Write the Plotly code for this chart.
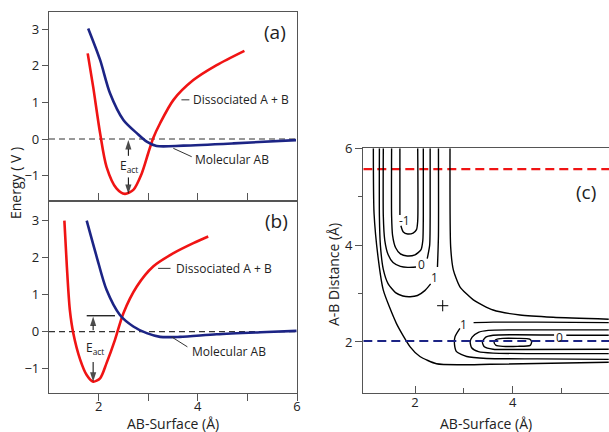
import plotly.graph_objects as go

# ---------------- data ----------------
# panel (a)
a_red_x = [1.78, 1.89, 2.03, 2.16, 2.36, 2.53, 2.70, 2.87, 3.00, 3.10, 3.24, 3.51, 3.91, 4.38, 4.94]
a_red_y = [2.34, 1.43, 0.16, -0.76, -1.35, -1.50, -1.39, -0.94, -0.39, 0.02, 0.43, 1.07, 1.61, 2.02, 2.41]
a_blue_x = [1.79, 2.03, 2.23, 2.50, 2.77, 2.97, 3.17, 3.71, 4.72, 5.98]
a_blue_y = [3.02, 2.16, 1.25, 0.52, 0.16, -0.07, -0.19, -0.18, -0.12, -0.03]
# panel (b)
b_red_x = [1.31, 1.36, 1.42, 1.49, 1.63, 1.76, 1.89, 2.03, 2.16, 2.33, 2.50, 2.77, 3.10, 3.51, 3.91, 4.21]
b_red_y = [3.00, 1.76, 0.59, -0.04, -0.76, -1.17, -1.35, -1.26, -0.85, -0.22, 0.50, 1.22, 1.76, 2.12, 2.39, 2.57]
b_blue_x = [1.76, 1.96, 2.16, 2.43, 2.70, 2.97, 3.24, 3.64, 4.38, 5.39, 5.99]
b_blue_y = [3.00, 2.03, 1.13, 0.45, 0.14, -0.04, -0.14, -0.14, -0.07, -0.01, 0.02]

energy_ticks = [-1, 0, 1, 2, 3]
surface_ticks = [2, 4, 6]

# E_act arrows: (x, tail_y, tip_y)
a_arrows = [(2.60, -0.46, -0.03), (2.60, -1.05, -1.50)]
b_arrows = [(1.89, 0.04, 0.41), (1.89, -0.82, -1.35)]

# panel (c) contour lines (None = gap for a label)
c_lines = {
    "u1": ([1.69, 1.69, 1.69, None, 1.71, 1.76, 1.85, 1.96, 2.03, 2.055, 2.055],
           [6.0, 5.0, 4.62, None, 4.40, 4.27, 4.23, 4.25, 4.32, 4.5, 6.0]),
    "u2": ([1.52, 1.52, 1.54, 1.60, 1.70, 1.84, 2.00, 2.12, 2.16, 2.17, 2.17],
           [6.0, 4.6, 4.2, 3.95, 3.82, 3.776, 3.80, 3.90, 4.10, 4.6, 6.0]),
    "u3": ([1.35, 1.35, 1.38, 1.45, 1.55, 1.70, 1.85, 2.02, None, 2.25, 2.30, 2.31, 2.31],
           [6.0, 4.6, 4.1, 3.8, 3.64, 3.56, 3.54, 3.55, None, 3.72, 4.0, 4.6, 6.0]),
    "u4": ([1.27, 1.27, 1.29, 1.35, 1.45, 1.60, 1.75, 1.90, 2.05, 2.20, 2.32, None, 2.46, 2.48, 2.48],
           [6.0, 4.6, 4.0, 3.5, 3.2, 3.02, 2.95, 2.935, 2.96, 3.06, 3.20, None, 3.55, 4.2, 6.0]),
    "outer": ([1.146, 1.16, 1.25, 1.35, 1.62, 1.90, 2.10, 2.44, 2.92, 3.54, 5.97],
              [6.0, 4.66, 3.69, 3.07, 2.38, 1.90, 1.70, 1.55, 1.53, 1.54, 1.58]),
    "corner": ([2.717, 2.73, 2.785, 2.92, 3.195, 3.60, 4.15, 4.83, 5.97],
               [6.0, 3.97, 3.49, 3.14, 2.87, 2.66, 2.556, 2.51, 2.47]),
    "r1": ([5.97, 4.5, 3.6, 3.2, None, 2.92, 2.82, 2.81, 2.85, 3.06, 3.47, 4.5, 5.97],
           [2.40, 2.41, 2.41, 2.40, None, 2.28, 2.11, 1.94, 1.80, 1.70, 1.66, 1.65, 1.64]),
    "r05": ([5.97, 4.0, 3.5, 3.3, 3.17, 3.13, 3.16, 3.30, 3.60, 5.97],
            [2.25, 2.25, 2.24, 2.20, 2.10, 2.00, 1.88, 1.80, 1.77, 1.76]),
    "r0": ([5.97, 5.10, None, 4.85, 4.0, 3.6, 3.45, 3.38, 3.42, 3.6, 4.2, 5.97],
           [2.14, 2.14, None, 2.145, 2.15, 2.14, 2.10, 2.00, 1.90, 1.85, 1.845, 1.85]),
    "oval": ([3.62, 3.66, 3.80, 4.10, 4.35, 4.39, 4.36, 4.10, 3.80, 3.66, 3.62],
             [1.99, 2.05, 2.075, 2.075, 2.06, 2.00, 1.93, 1.91, 1.91, 1.93, 1.99]),
}
c_labels = [("-1", 1.775, 4.50), ("0", 2.14, 3.60), ("1", 2.40, 3.33),
            ("1", 2.99, 2.36), ("0", 4.97, 2.10)]
saddle = (2.567, 2.749)
red_cut = 5.57
blue_cut = 2.02

RED = "#f01414"
BLUE = "#1c2485"
FRAME = "#555555"
FONT = "Open Sans"

fig = go.Figure()

def curve(x, y, color, xa, ya):
    fig.add_trace(go.Scatter(x=x, y=y, mode="lines", xaxis=xa, yaxis=ya,
                             line=dict(color=color, width=2.6, shape="spline", smoothing=0.8),
                             hoverinfo="skip"))

# zero dashed lines
for xa, ya in (("x", "y"), ("x2", "y2")):
    fig.add_trace(go.Scatter(x=[1, 6], y=[0, 0], mode="lines", xaxis=xa, yaxis=ya,
                             line=dict(color="#333333", width=1.2, dash="6px,4px"), hoverinfo="skip"))

curve(a_red_x, a_red_y, RED, "x", "y")
curve(a_blue_x, a_blue_y, BLUE, "x", "y")
curve(b_red_x, b_red_y, RED, "x2", "y2")
curve(b_blue_x, b_blue_y, BLUE, "x2", "y2")

# E_act arrows
for arrows, xa, ya in ((a_arrows, "x", "y"), (b_arrows, "x2", "y2")):
    for x, y0, y1 in arrows:
        fig.add_trace(go.Scatter(x=[x, x], y=[y0, y1], mode="lines+markers", xaxis=xa, yaxis=ya,
                                 line=dict(color="black", width=1),
                                 marker=dict(symbol="arrow", angleref="previous", size=[0, 10],
                                             color="black", line=dict(width=0)),
                                 hoverinfo="skip"))

# panel (c)
fig.add_trace(go.Scatter(x=[0.94, 6.2], y=[red_cut, red_cut], mode="lines", xaxis="x3", yaxis="y3",
                         line=dict(color=RED, width=2.2, dash="9px,5px"), hoverinfo="skip"))
for name, (lx, ly) in c_lines.items():
    fig.add_trace(go.Scatter(x=lx, y=ly, mode="lines", xaxis="x3", yaxis="y3", connectgaps=False,
                             line=dict(color="black", width=1.4, shape="spline", smoothing=0.6),
                             hoverinfo="skip"))
fig.add_trace(go.Scatter(x=[0.94, 6.2], y=[blue_cut, blue_cut], mode="lines", xaxis="x3", yaxis="y3",
                         line=dict(color=BLUE, width=2.2, dash="9px,5px"), hoverinfo="skip"))
fig.add_trace(go.Scatter(x=[saddle[0]], y=[saddle[1]], mode="markers", xaxis="x3", yaxis="y3",
                         marker=dict(symbol="cross-thin", size=8, line=dict(color="black", width=1)),
                         hoverinfo="skip"))

ann = []
shapes = []
def txt(t, x, y, xr, yr, size=12, xanchor="center"):
    ann.append(dict(text=t, x=x, y=y, xref=xr, yref=yr, showarrow=False, xanchor=xanchor,
                    yanchor="middle", font=dict(family=FONT, size=size, color="#222222")))

def seg(x0, y0, x1, y1, xr, yr, color="#333333", w=1):
    shapes.append(dict(type="line", x0=x0, y0=y0, x1=x1, y1=y1, xref=xr, yref=yr,
                       line=dict(color=color, width=w)))

# (a) annotations
txt("(a)", 5.55, 2.92, "x", "y", size=19)
txt("Dissociated A + B", 3.87, 1.07, "x", "y", xanchor="left")
seg(3.67, 1.07, 3.83, 1.07, "x", "y")
txt("Molecular AB", 3.90, -0.55, "x", "y", xanchor="left")
seg(3.506, -0.254, 3.877, -0.484, "x", "y")
txt("E<sub>act</sub>", 2.61, -0.74, "x", "y", size=12)

# (b) annotations
txt("(b)", 5.58, 3.0, "x2", "y2", size=19)
txt("Dissociated A + B", 3.52, 1.71, "x2", "y2", xanchor="left")
seg(3.20, 1.71, 3.45, 1.71, "x2", "y2")
txt("Molecular AB", 3.84, -0.54, "x2", "y2", xanchor="left")
seg(3.47, -0.14, 3.79, -0.41, "x2", "y2")
seg(1.76, 0.43, 2.33, 0.43, "x2", "y2", color="black", w=1.2)
txt("E<sub>act</sub>", 1.93, -0.45, "x2", "y2", size=12)

# (c) annotations
txt("(c)", 5.5, 5.10, "x3", "y3", size=19)
for t, x, y in c_labels:
    txt(t, x, y, "x3", "y3", size=12)

# axis titles
txt("Energy ( V )", 15 / 609, 1 - 183 / 432, "paper", "paper", size=14)
ann[-1]["textangle"] = -90
txt("AB-Surface (Å)", 173 / 609, 1 - 423 / 432, "paper", "paper", size=14)
txt("AB-Surface (Å)", 486 / 609, 1 - 423 / 432, "paper", "paper", size=14)
txt("A-B Distance (Å)", 333 / 609, 1 - 275 / 432, "paper", "paper", size=14)
ann[-1]["textangle"] = -90

tickfont = dict(family=FONT, size=13, color="#222222")
common = dict(showgrid=False, zeroline=False, showline=True, linecolor=FRAME, linewidth=1.3,
              tickcolor=FRAME, tickwidth=1.2, tickfont=tickfont, automargin=False)

W, H = 609, 432
fig.update_layout(
    template="none",
    width=W, height=H, margin=dict(l=0, r=0, t=0, b=0, pad=0), autosize=False,
    paper_bgcolor="white", plot_bgcolor="white", showlegend=False,
    font=dict(family=FONT),
    xaxis=dict(domain=[49 / W, 297 / W], range=[1, 6], anchor="y", mirror=True,
               ticks="inside", ticklen=8, tickvals=[2, 3, 4, 5], showticklabels=False, **common),
    yaxis=dict(domain=[1 - 201 / H, 1 - 12 / H], range=[-1.694, 3.470], anchor="x", mirror=True,
               ticks="outside", ticklen=6, tickvals=energy_ticks, **common),
    xaxis2=dict(domain=[49 / W, 297 / W], range=[1, 6], anchor="y2", mirror=True,
                ticks="outside", ticklen=7, tickvals=surface_ticks, ticklabelstandoff=-6,
                minor=dict(tickvals=[3, 5], ticks="outside", ticklen=7, tickcolor=FRAME),
                **common),
    yaxis2=dict(domain=[1 - 393 / H, 1 - 201 / H], range=[-1.657, 3.53], anchor="x2", mirror=True,
                ticks="outside", ticklen=6, tickvals=energy_ticks, **common),
    xaxis3=dict(domain=[363.3 / W, 1.0], range=[0.94, 5.975], anchor="y3", mirror=True,
                ticks="inside", ticklen=7, tickvals=surface_ticks, ticklabelstandoff=-3,
                minor=dict(tickvals=[3, 5], ticks="inside", ticklen=5, tickcolor=FRAME),
                **common),
    yaxis3=dict(domain=[1 - 393.3 / H, 1 - 148.3 / H], range=[0.94, 6], anchor="x3", mirror=False,
                ticks="outside", ticklen=7, tickvals=[2, 4, 6],
                minor=dict(tickvals=[3, 5], ticks="outside", ticklen=4, tickcolor=FRAME),
                **common),
    annotations=ann, shapes=shapes,
)

fig.write_html("out.html", config={"displayModeBar": False},
               post_script="document.body.style.margin='0';document.body.style.overflow='hidden';")
